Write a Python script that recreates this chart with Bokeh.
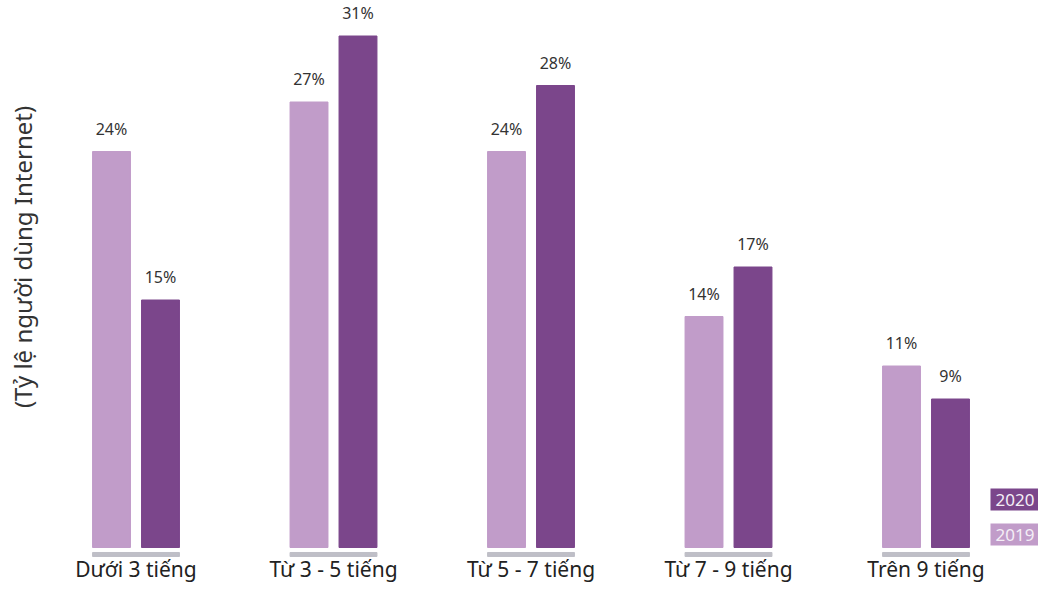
from bokeh.plotting import figure
from bokeh.models import Range1d, ColumnDataSource, Label
from bokeh.core.properties import value
from bokeh.embed import file_html
from bokeh.resources import INLINE
import math

categories = ["Dưới 3 tiếng", "Từ 3 - 5 tiếng", "Từ 5 - 7 tiếng", "Từ 7 - 9 tiếng", "Trên 9 tiếng"]
values_2019 = [24, 27, 24, 14, 11]
values_2020 = [15, 31, 28, 17, 9]
series_names = ["2019", "2020"]
y_title = "(Tỷ lệ người dùng Internet)"

FONT = "Noto Sans"
C19 = "#c19cc9"
C20 = "#7b468b"

xs = list(range(len(categories)))
off = 0.124
bw = 0.192

src19 = ColumnDataSource(dict(x=[i - off for i in xs], top=values_2019,
                              lab=[f"{v}%" for v in values_2019]))
src20 = ColumnDataSource(dict(x=[i + off for i in xs], top=values_2020,
                              lab=[f"{v}%" for v in values_2020]))
src_cat = ColumnDataSource(dict(x=xs, y=[0] * len(xs), lab=categories))

W, H = 1038, 585
p = figure(width=W, height=H, output_backend="svg", toolbar_location=None,
           x_range=Range1d(-0.6861, 4.5696), y_range=Range1d(-2.303, 33.152),
           min_border=0)
p.outline_line_color = None
p.grid.visible = False
p.xaxis.visible = False
p.yaxis.visible = False

p.vbar(x="x", top="top", bottom=0, width=bw, color=C19, source=src19)
p.vbar(x="x", top="top", bottom=0, width=bw, color=C20, source=src20)

# gray base under each group
p.rect(x="x", y=-0.424, width=0.44, height=4, height_units="screen",
       color="#bfbfc7", source=src_cat)

for s in (src19, src20):
    p.text(x="x", y="top", text="lab", source=s, text_align="center",
           text_baseline="alphabetic", y_offset=-23, text_font=value(FONT),
           text_font_size="16px", text_color="#333333")

p.text(x="x", y="y", text="lab", source=src_cat, text_align="center",
       text_baseline="alphabetic", y_offset=21, text_font=value(FONT),
       text_font_size="21px", text_color="#222222")

p.add_layout(Label(x=22, y=H - 256.5, x_units="screen", y_units="screen", text=y_title,
                   angle=math.pi / 2, text_align="center", text_baseline="middle",
                   text_font=FONT, text_font_size="24px", text_color="#333333"))

for name, col, yc in ((series_names[1], C20, 499), (series_names[0], C19, 534)):
    p.add_layout(Label(x=990, y=H - yc, x_units="screen", y_units="screen",
                       text=name, text_font=FONT, text_font_size="17px",
                       text_color="#f4eef6", background_fill_color=col,
                       padding=5, text_baseline="middle"))

open("out.html", "w").write(file_html(p, INLINE))
